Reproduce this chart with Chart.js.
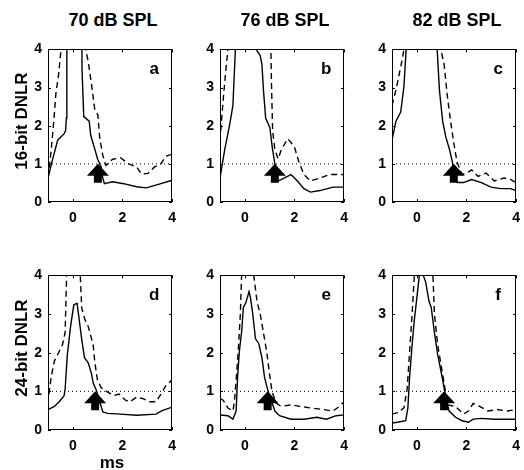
<!DOCTYPE html>
<html>
<head>
<meta charset="utf-8">
<script src="https://cdn.jsdelivr.net/npm/chart.js@4/dist/chart.umd.min.js"></script>
<style>
  body { margin: 0; background: #fff; }
  #fig { position: relative; width: 524px; height: 470px; font-family: "Liberation Sans", Arial, sans-serif; font-weight: bold; color: #000; }
  #fig canvas { position: absolute; }
  .lbl { position: absolute; white-space: nowrap; font-size: 17px; line-height: 1; }
  .title { font-size: 18px; transform: translate(-50%, -50%); }
  .ylab { transform: translate(-50%, -50%) rotate(-90deg); }
  .xlab { transform: translate(-50%, -50%); }
</style>
</head>
<body>
<div id="fig"></div>
<script>
// Sound levels (columns) and recording depth (rows)
const levels = ['70 dB SPL', '76 dB SPL', '82 dB SPL'];
const rowLabels = ['16-bit DNLR', '24-bit DNLR'];
const panelLetters = ['a', 'b', 'c', 'd', 'e', 'f'];
const xLabel = 'ms';
const xTicks = [0, 2, 4];
const yTicks = [0, 1, 2, 3, 4];
const criterion = 1;
// arrow marks where the solid trace falls below criterion
const arrowX = [1.01, 1.21, 1.49, 0.9, 0.92, 1.1];

// panel a
const aSolidX = [-1, -0.81, -0.61, -0.35, -0.29, -0.26, -0.24, 0.36, 0.37, 0.44, 0.66, 0.72, 0.88, 1.0, 1.14, 1.2, 1.27, 1.6, 2.05, 2.57, 2.96, 3.48, 4.0];
const aSolidY = [0.63, 1.13, 1.62, 1.79, 1.87, 2.2, 6, 6, 3.5, 2.24, 2.12, 1.75, 1.4, 1.12, 0.92, 0.65, 0.48, 0.53, 0.48, 0.4, 0.37, 0.47, 0.57];
const aDashX = [-0.95, -0.87, -0.77, -0.68, -0.57, -0.48, -0.45, 0.5, 0.52, 0.62, 0.75, 0.88, 1.01, 1.08, 1.21, 1.34, 1.6, 1.92, 2.25, 2.57, 2.77, 3.03, 3.29, 3.55, 3.74, 4.0];
const aDashY = [0.9, 1.37, 2.1, 2.86, 3.35, 3.97, 6, 6, 4.0, 3.68, 3.1, 2.44, 2.28, 1.7, 1.21, 0.96, 1.12, 1.16, 1.0, 0.92, 0.73, 0.75, 0.92, 1.0, 1.2, 1.25];
// panel b
const bSolidX = [-1, -0.81, -0.61, -0.48, -0.38, -0.36, 0.44, 0.45, 0.62, 0.69, 0.75, 0.84, 1.01, 1.1, 1.21, 1.34, 1.6, 1.86, 2.12, 2.38, 2.64, 3.03, 3.55, 4.0];
const bSolidY = [0.63, 1.37, 2.03, 2.53, 4.0, 6, 6, 4.0, 3.84, 3.6, 2.94, 2.2, 1.95, 1.46, 1.0, 0.55, 0.63, 0.72, 0.55, 0.35, 0.26, 0.3, 0.39, 0.39];
const bDashX = [-0.97, -0.87, -0.77, -0.68, -0.66, 1.04, 1.05, 1.08, 1.12, 1.21, 1.34, 1.47, 1.73, 1.99, 2.18, 2.38, 2.64, 3.03, 3.42, 3.81, 4.0];
const bDashY = [1.87, 2.69, 3.43, 4.0, 6, 6, 4.0, 2.94, 1.87, 1.37, 1.13, 1.37, 1.66, 1.46, 1.05, 0.72, 0.55, 0.63, 0.72, 0.72, 0.72];
// panel c
const cSolidX = [-1, -0.84, -0.65, -0.52, -0.43, -0.41, 0.81, 0.82, 0.91, 1.04, 1.17, 1.32, 1.43, 1.5, 1.62, 1.88, 2.21, 2.6, 2.99, 3.38, 3.77, 4.0];
const cSolidY = [1.62, 2.12, 2.36, 3.02, 4.0, 6, 6, 4.0, 2.94, 2.12, 1.7, 1.37, 1.05, 0.8, 0.51, 0.51, 0.59, 0.51, 0.39, 0.35, 0.35, 0.3];
const cDashX = [-1, -0.84, -0.71, -0.58, -0.52, -0.5, 0.96, 0.97, 1.1, 1.23, 1.36, 1.49, 1.62, 1.82, 2.01, 2.21, 2.47, 2.79, 3.12, 3.51, 3.77, 4.0];
const cDashY = [2.53, 2.94, 3.35, 3.76, 4.0, 6, 6, 4.0, 3.6, 2.77, 2.12, 1.54, 1.05, 0.72, 0.76, 0.84, 0.67, 0.76, 0.55, 0.63, 0.59, 0.51];
// panel d
const dSolidX = [-1, -0.74, -0.55, -0.35, -0.31, -0.22, -0.09, 0.04, 0.17, 0.23, 0.36, 0.47, 0.62, 0.75, 0.82, 0.95, 1.1, 1.21, 1.4, 1.92, 2.57, 3.35, 3.6, 4.0];
const dSolidY = [0.53, 0.61, 0.73, 0.89, 1.06, 1.95, 2.68, 3.24, 3.28, 2.99, 2.34, 1.87, 1.74, 1.46, 1.22, 1.02, 0.7, 0.47, 0.43, 0.41, 0.38, 0.41, 0.5, 0.59];
const dDashX = [-0.96, -0.87, -0.74, -0.55, -0.42, -0.31, -0.25, -0.24, 0.29, 0.3, 0.36, 0.49, 0.62, 0.82, 0.88, 0.99, 1.14, 1.4, 1.66, 1.86, 2.12, 2.31, 2.57, 2.83, 3.09, 3.35, 3.55, 3.74, 4.0];
const dDashY = [0.93, 1.38, 1.79, 2.03, 2.2, 2.52, 4.0, 6, 6, 4.0, 3.15, 2.85, 2.68, 2.2, 1.79, 1.3, 1.1, 0.98, 0.89, 0.93, 0.77, 0.73, 0.85, 0.81, 0.73, 0.73, 0.93, 1.14, 1.3];
// panel e
const eSolidX = [-1, -0.68, -0.48, -0.35, -0.29, -0.22, -0.12, -0.06, 0.04, 0.17, 0.23, 0.32, 0.43, 0.56, 0.69, 0.79, 0.88, 0.95, 1.1, 1.21, 1.4, 1.86, 2.38, 2.9, 3.29, 3.68, 4.0];
const eSolidY = [0.39, 0.37, 0.28, 0.49, 1.38, 2.03, 2.6, 3.17, 3.29, 3.58, 3.41, 3.0, 2.36, 2.24, 1.87, 1.38, 1.14, 0.98, 0.7, 0.49, 0.37, 0.28, 0.28, 0.33, 0.28, 0.37, 0.39];
const eDashX = [-1, -0.87, -0.68, -0.48, -0.42, -0.32, -0.25, -0.18, -0.13, -0.12, 0.35, 0.36, 0.49, 0.62, 0.75, 0.88, 1.01, 1.1, 1.27, 1.47, 1.86, 2.25, 2.64, 3.16, 3.55, 3.81, 4.0];
const eDashY = [0.81, 0.77, 0.57, 0.49, 0.73, 1.54, 2.2, 3.0, 4.0, 6, 6, 4.0, 3.33, 3.0, 2.52, 2.03, 1.38, 0.98, 0.69, 0.61, 0.65, 0.61, 0.57, 0.53, 0.49, 0.61, 0.73];
// panel f
const fSolidX = [-1, -0.78, -0.45, -0.36, -0.29, -0.19, -0.1, 0, 0.1, 0.11, 0.25, 0.26, 0.36, 0.49, 0.58, 0.71, 0.84, 0.94, 1.04, 1.15, 1.3, 1.56, 1.82, 2.08, 2.27, 2.6, 3.12, 3.64, 4.0];
const fSolidY = [0.18, 0.2, 0.24, 0.57, 1.38, 2.2, 2.85, 3.41, 4.0, 6, 6, 4.0, 3.82, 3.33, 3.17, 2.52, 1.95, 1.63, 1.3, 0.9, 0.49, 0.33, 0.24, 0.2, 0.28, 0.3, 0.28, 0.28, 0.28];
const fDashX = [-1, -0.78, -0.52, -0.39, -0.29, -0.19, -0.1, -0.09, 0.64, 0.65, 0.71, 0.84, 0.97, 1.1, 1.23, 1.56, 1.88, 2.08, 2.27, 2.53, 2.86, 3.25, 3.64, 4.0];
const fDashY = [0.41, 0.45, 0.57, 1.06, 2.03, 3.0, 4.0, 6, 6, 4.0, 3.0, 2.2, 1.71, 1.22, 0.65, 0.61, 0.41, 0.49, 0.69, 0.61, 0.49, 0.53, 0.49, 0.53];

const solidX = [aSolidX, bSolidX, cSolidX, dSolidX, eSolidX, fSolidX];
const solidY = [aSolidY, bSolidY, cSolidY, dSolidY, eSolidY, fSolidY];
const dashX = [aDashX, bDashX, cDashX, dDashX, eDashX, fDashX];
const dashY = [aDashY, bDashY, cDashY, dDashY, eDashY, fDashY];

const FONT = '"Liberation Sans", Arial, sans-serif';
const fig = document.getElementById('fig');

// layout of plot boxes (pixels)
const colLeft = [48, 220, 392];
const rowTop = [40, 266];
const plotW = 130;
const plotH = [162, 164];
const padL = 40, padT = 5, padR = 6, padB = 30;

function pts(xs, ys) {
    return xs.map((x, i) => ({x: x, y: ys[i]}));
}

function addLabel(text, cls, x, y) {
    const d = document.createElement('div');
    d.className = 'lbl ' + cls;
    d.textContent = text;
    d.style.left = x + 'px';
    d.style.top = y + 'px';
    fig.appendChild(d);
}

// box, inward ticks, arrow and panel letter
const framePlugin = {
    id: 'frame',
    afterDatasetsDraw(chart, args, opts) {
        const ctx = chart.ctx;
        const a = chart.chartArea;
        const sx = chart.scales.x, sy = chart.scales.y;
        ctx.save();
        // arrow
        const tx = sx.getPixelForValue(opts.arrowX);
        const ty = sy.getPixelForValue(criterion);
        ctx.fillStyle = '#000';
        ctx.beginPath();
        ctx.moveTo(tx, ty);
        ctx.lineTo(tx + 11, ty + 12);
        ctx.lineTo(tx + 4, ty + 12);
        ctx.lineTo(tx + 4, ty + 19);
        ctx.lineTo(tx - 4, ty + 19);
        ctx.lineTo(tx - 4, ty + 12);
        ctx.lineTo(tx - 11, ty + 12);
        ctx.closePath();
        ctx.fill();
        // box
        ctx.strokeStyle = '#000';
        ctx.lineWidth = 1;
        ctx.strokeRect(Math.round(a.left) + 0.5, Math.round(a.top) + 0.5, Math.round(a.width) - 1, Math.round(a.height) - 1);
        // ticks pointing inward on all four sides
        ctx.beginPath();
        xTicks.forEach(v => {
            const px = Math.round(sx.getPixelForValue(v)) + 0.5;
            ctx.moveTo(px, a.bottom); ctx.lineTo(px, a.bottom - 3);
            ctx.moveTo(px, a.top); ctx.lineTo(px, a.top + 3);
        });
        yTicks.forEach(v => {
            const py = Math.round(sy.getPixelForValue(v)) + 0.5;
            ctx.moveTo(a.left, py); ctx.lineTo(a.left + 3, py);
            ctx.moveTo(a.right, py); ctx.lineTo(a.right - 3, py);
        });
        ctx.stroke();
        // panel letter
        ctx.font = 'bold 17px ' + FONT;
        ctx.textAlign = 'center';
        ctx.textBaseline = 'middle';
        ctx.fillText(opts.letter, a.right - 18, a.top + 20);
        ctx.restore();
    }
};

for (let p = 0; p < 6; p++) {
    const row = Math.floor(p / 3), col = p % 3;
    const cv = document.createElement('canvas');
    const w = padL + plotW + padR, h = padT + plotH[row] + padB;
    cv.width = w; cv.height = h;
    cv.style.left = (colLeft[col] - padL) + 'px';
    cv.style.top = (rowTop[row] - padT) + 'px';
    cv.style.width = w + 'px'; cv.style.height = h + 'px';
    fig.appendChild(cv);

    new Chart(cv, {
        type: 'line',
        data: {
            datasets: [
                {data: pts([-1, 4], [criterion, criterion]), borderColor: '#000', borderWidth: 1, borderDash: [1, 3]},
                {data: pts(dashX[p], dashY[p]), borderColor: '#000', borderWidth: 1.4, borderDash: [6, 4]},
                {data: pts(solidX[p], solidY[p]), borderColor: '#000', borderWidth: 1.4}
            ]
        },
        options: {
            responsive: false,
            animation: false,
            events: [],
            layout: {padding: {top: padT, right: padR, left: 0, bottom: 0}},
            elements: {point: {radius: 0}, line: {tension: 0}},
            plugins: {
                legend: {display: false},
                tooltip: {enabled: false},
                frame: {arrowX: arrowX[p], letter: panelLetters[p]}
            },
            scales: {
                x: {
                    type: 'linear', min: -1, max: 4,
                    afterBuildTicks: s => { s.ticks = xTicks.map(v => ({value: v})); },
                    afterFit: s => { s.height = padB; },
                    grid: {display: false, drawTicks: false},
                    border: {display: false},
                    ticks: {padding: 8, color: '#000', font: {family: FONT, size: 14, weight: 'bold'}}
                },
                y: {
                    type: 'linear', min: 0, max: 4,
                    afterBuildTicks: s => { s.ticks = yTicks.map(v => ({value: v})); },
                    afterFit: s => { s.width = padL; },
                    grid: {display: false, drawTicks: false},
                    border: {display: false},
                    ticks: {padding: 6, color: '#000', font: {family: FONT, size: 14, weight: 'bold'}}
                }
            }
        },
        plugins: [framePlugin]
    });
}

levels.forEach((t, i) => addLabel(t, 'title', colLeft[i] + plotW / 2, 20));
rowLabels.forEach((t, i) => addLabel(t, 'ylab', 21, rowTop[i] + plotH[i] / 2));
addLabel(xLabel, 'xlab', colLeft[0] + plotW / 2 - 1, 462);
</script>
</body>
</html>
